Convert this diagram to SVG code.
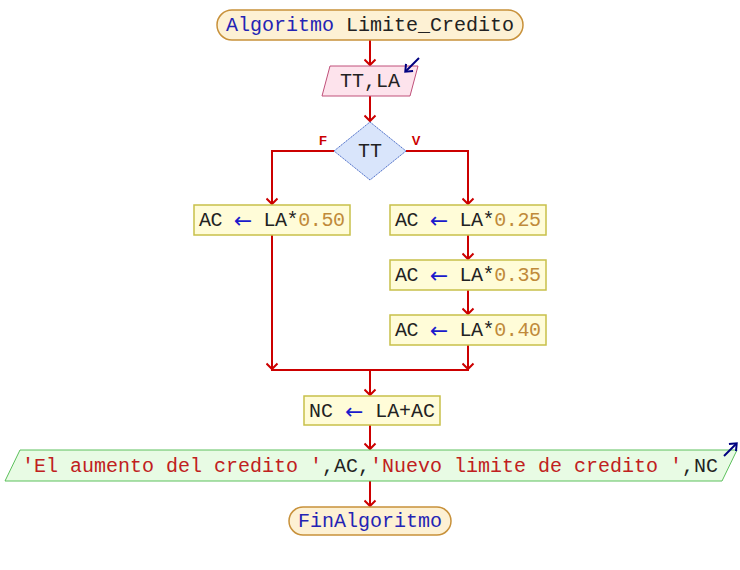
<svg xmlns="http://www.w3.org/2000/svg" width="740" height="570" viewBox="0 0 740 570">
<defs>
<marker id="ah" markerWidth="12" markerHeight="13" refX="7" refY="6.5" orient="auto" markerUnits="userSpaceOnUse">
<path d="M1.5,1 L7,6.5 L1.5,12" fill="none" stroke="#cc0000" stroke-width="2"/>
</marker>
<marker id="bh" markerWidth="10" markerHeight="12" refX="5" refY="6" orient="auto" markerUnits="userSpaceOnUse">
<path d="M0,1 L6,6 L0,11" fill="none" stroke="#000080" stroke-width="2"/>
</marker>
</defs>
<style>
text{font-family:"Liberation Mono","Courier New",monospace;font-size:20px;text-anchor:middle;dominant-baseline:central}
.term{fill:#fdf1d4;stroke:#c8913a;stroke-width:1.5}
.inp{fill:#fde3ec;stroke:#c0507a;stroke-width:1}
.dec{fill:#d9e5fb;stroke:#4a6cc8;stroke-width:1;stroke-dasharray:1.5 0.7}
.proc{fill:#fffcd8;stroke:#c8c04a;stroke-width:1.5}
.outp{fill:#e8fbe4;stroke:#5cc05c;stroke-width:1}
.ln{fill:none;stroke:#cc0000;stroke-width:2}
.kw{fill:#2424b4}
.id{fill:#222}
.op{fill:#1a1acc;font-family:"DejaVu Sans",sans-serif;font-size:22px}
.num{fill:#c08a3a}
.str{fill:#c02020}
.lab{font-family:"Liberation Sans",Arial,sans-serif;font-size:13px;font-weight:bold;fill:#cc0000}
.io{stroke:#000080;stroke-width:2;fill:none}
</style>
<g id="connectors">
<line class="ln" x1="370" y1="40" x2="370" y2="65" marker-end="url(#ah)"/>
<line class="ln" x1="370" y1="96" x2="370" y2="121" marker-end="url(#ah)"/>
<polyline class="ln" points="334,151 272,151 272,204" marker-end="url(#ah)"/>
<polyline class="ln" points="406,151 468,151 468,204" marker-end="url(#ah)"/>
<line class="ln" x1="468" y1="235" x2="468" y2="259" marker-end="url(#ah)"/>
<line class="ln" x1="468" y1="290" x2="468" y2="314" marker-end="url(#ah)"/>
<line class="ln" x1="272" y1="235" x2="272" y2="369" marker-end="url(#ah)"/>
<line class="ln" x1="468" y1="345" x2="468" y2="369" marker-end="url(#ah)"/>
<line class="ln" x1="271" y1="370" x2="469" y2="370"/>
<line class="ln" x1="370" y1="370" x2="370" y2="395" marker-end="url(#ah)"/>
<line class="ln" x1="370" y1="425" x2="370" y2="449" marker-end="url(#ah)"/>
<line class="ln" x1="370" y1="481" x2="370" y2="506" marker-end="url(#ah)"/>
<text class="lab" x="323" y="140">F</text>
<text class="lab" x="416" y="140">V</text>
</g>
<g id="start">
<rect class="term" x="217" y="10" width="306" height="30" rx="15"/>
<text x="370" y="25"><tspan class="kw">Algoritmo</tspan><tspan class="id"> Limite_Credito</tspan></text>
</g>
<g id="input">
<polygon class="inp" points="330,66 418,66 410,96 322,96"/>
<text x="370" y="81" class="id">TT,LA</text>
<line class="io" x1="419" y1="58" x2="406" y2="71" marker-end="url(#bh)"/>
</g>
<g id="decision">
<polygon class="dec" points="370,122 406,151 370,180 334,151"/>
<text x="370" y="151" class="id">TT</text>
</g>
<g id="assignF">
<rect class="proc" x="194" y="205" width="156" height="30"/>
<text x="272" y="220" textLength="146" lengthAdjust="spacing"><tspan class="id">AC </tspan><tspan class="op">←</tspan><tspan class="id"> LA*</tspan><tspan class="num">0.50</tspan></text>
</g>
<g id="assignV1">
<rect class="proc" x="390" y="205" width="156" height="30"/>
<text x="468" y="220" textLength="146" lengthAdjust="spacing"><tspan class="id">AC </tspan><tspan class="op">←</tspan><tspan class="id"> LA*</tspan><tspan class="num">0.25</tspan></text>
</g>
<g id="assignV2">
<rect class="proc" x="390" y="260" width="156" height="30"/>
<text x="468" y="275" textLength="146" lengthAdjust="spacing"><tspan class="id">AC </tspan><tspan class="op">←</tspan><tspan class="id"> LA*</tspan><tspan class="num">0.35</tspan></text>
</g>
<g id="assignV3">
<rect class="proc" x="390" y="315" width="156" height="30"/>
<text x="468" y="330" textLength="146" lengthAdjust="spacing"><tspan class="id">AC </tspan><tspan class="op">←</tspan><tspan class="id"> LA*</tspan><tspan class="num">0.40</tspan></text>
</g>
<g id="assignNC">
<rect class="proc" x="304" y="396" width="136" height="29"/>
<text x="372" y="410.5" textLength="126" lengthAdjust="spacingAndGlyphs"><tspan class="id">NC </tspan><tspan class="op">←</tspan><tspan class="id"> LA+AC</tspan></text>
</g>
<g id="output">
<polygon class="outp" points="20,450 737,450 722,481 5,481"/>
<text x="370" y="466"><tspan class="str">'El aumento del credito '</tspan><tspan class="id">,AC,</tspan><tspan class="str">'Nuevo limite de credito '</tspan><tspan class="id">,NC</tspan></text>
<line class="io" x1="724" y1="456" x2="736" y2="444" marker-end="url(#bh)"/>
</g>
<g id="end">
<rect class="term" x="289" y="507" width="162" height="28" rx="14"/>
<text x="370" y="521" class="kw">FinAlgoritmo</text>
</g>
</svg>
